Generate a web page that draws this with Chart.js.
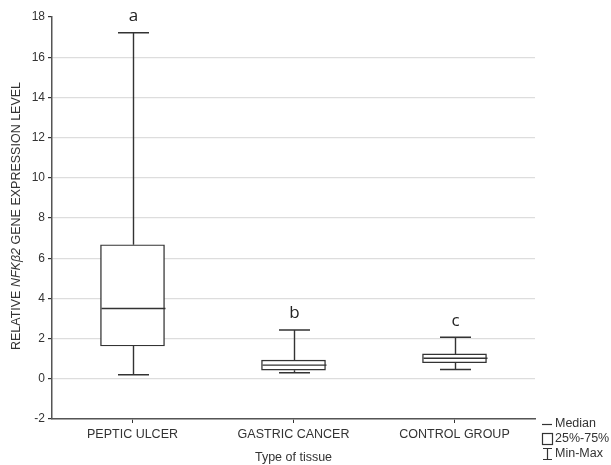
<!DOCTYPE html>
<html>
<head>
<meta charset="utf-8">
<script src="https://cdn.jsdelivr.net/npm/chart.js@4"></script>
<style>
  html, body { margin: 0; padding: 0; background: #fff; }
  #wrap { width: 611px; height: 465px; }
</style>
</head>
<body>
<div id="wrap"><canvas id="boxChart"></canvas></div>
<script>
// Data
const categories = ['PEPTIC ULCER', 'GASTRIC CANCER', 'CONTROL GROUP'];
const minValues = [0.2, 0.3, 0.46];
const q1Values = [1.63, 0.43, 0.8];
const medianValues = [3.5, 0.68, 1.02];
const q3Values = [6.67, 0.93, 1.24];
const maxValues = [17.22, 2.43, 2.07];
const groupLetters = ['a', 'b', 'c'];
const yTickValues = [-2, 0, 2, 4, 6, 8, 10, 12, 14, 16, 18];

const ink = '#333';
const font = '"Liberation Sans", Arial, sans-serif';

// Whiskers, medians and letters on top of the boxes
const boxExtras = {
  id: 'boxExtras',
  afterDatasetsDraw(chart) {
    const ctx = chart.ctx;
    const xs = chart.scales.x, ys = chart.scales.y;
    const bars = chart.getDatasetMeta(0).data;
    ctx.save();
    ctx.strokeStyle = ink;
    ctx.lineWidth = 1.4;
    categories.forEach((c, i) => {
      const cx = Math.round(xs.getPixelForValue(i)) + 0.5;
      const half = bars[i].width / 2;
      const cap = 15.5;
      const yMin = ys.getPixelForValue(minValues[i]);
      const yQ1 = ys.getPixelForValue(q1Values[i]);
      const yMed = ys.getPixelForValue(medianValues[i]);
      const yQ3 = ys.getPixelForValue(q3Values[i]);
      const yMax = ys.getPixelForValue(maxValues[i]);
      ctx.beginPath();
      ctx.moveTo(cx, yMax); ctx.lineTo(cx, yQ3);
      ctx.moveTo(cx, yQ1); ctx.lineTo(cx, yMin);
      ctx.moveTo(cx - cap, yMax); ctx.lineTo(cx + cap, yMax);
      ctx.moveTo(cx - cap, yMin); ctx.lineTo(cx + cap, yMin);
      ctx.moveTo(cx - half, yMed); ctx.lineTo(cx + half, yMed);
      ctx.stroke();
      ctx.fillStyle = '#222';
      ctx.font = '17px "Open Sans", sans-serif';
      ctx.textAlign = 'center';
      ctx.textBaseline = 'bottom';
      ctx.fillText(groupLetters[i], cx, yMax - 8);
    });
    ctx.restore();
  }
};

// Rotated y title with the italic gene name
const yTitle = {
  id: 'yTitle',
  afterDraw(chart) {
    const ctx = chart.ctx;
    const parts = [
      ['RELATIVE ', 'normal'],
      ['NFKβ2', 'italic'],
      [' GENE EXPRESSION LEVEL', 'normal']
    ];
    ctx.save();
    let total = 0;
    parts.forEach(p => {
      ctx.font = p[1] + ' 12.5px ' + font;
      total += ctx.measureText(p[0]).width;
    });
    ctx.translate(17, 216);
    ctx.rotate(-Math.PI / 2);
    ctx.fillStyle = ink;
    ctx.textBaseline = 'middle';
    ctx.textAlign = 'left';
    let x = -total / 2;
    parts.forEach(p => {
      ctx.font = p[1] + ' 12.5px ' + font;
      ctx.fillText(p[0], x, 0);
      x += ctx.measureText(p[0]).width;
    });
    ctx.restore();
  }
};

// Small legend at bottom right
const boxLegend = {
  id: 'boxLegend',
  afterDraw(chart) {
    const ctx = chart.ctx;
    ctx.save();
    ctx.strokeStyle = ink;
    ctx.lineWidth = 1.2;
    ctx.fillStyle = ink;
    ctx.font = '12.5px ' + font;
    ctx.textBaseline = 'middle';
    ctx.textAlign = 'left';
    const sx = 542, tx = 555;
    // median
    ctx.beginPath();
    ctx.moveTo(sx, 424.5); ctx.lineTo(sx + 10, 424.5);
    ctx.stroke();
    ctx.fillText('Median', tx, 424);
    // box
    ctx.strokeRect(sx + 0.5, 433.5, 10, 11);
    ctx.fillText('25%-75%', tx, 439);
    // whisker
    ctx.beginPath();
    ctx.moveTo(sx + 1, 448.5); ctx.lineTo(sx + 10, 448.5);
    ctx.moveTo(sx + 5.5, 448.5); ctx.lineTo(sx + 5.5, 459.5);
    ctx.moveTo(sx + 1, 459.5); ctx.lineTo(sx + 10, 459.5);
    ctx.stroke();
    ctx.fillText('Min-Max', tx, 454);
    ctx.restore();
  }
};

new Chart(document.getElementById('boxChart'), {
  type: 'bar',
  data: {
    labels: categories,
    datasets: [{
      data: categories.map((c, i) => [q1Values[i], q3Values[i]]),
      backgroundColor: '#fff',
      borderColor: ink,
      borderWidth: 1.4,
      borderSkipped: false,
      barThickness: 64
    }]
  },
  options: {
    responsive: true,
    maintainAspectRatio: false,
    animation: false,
    layout: { padding: { top: 17, right: 76, left: 0, bottom: 0 } },
    plugins: {
      legend: { display: false },
      tooltip: { enabled: false }
    },
    scales: {
      x: {
        grid: { display: true, drawOnChartArea: false, offset: false, tickLength: 4, tickColor: ink },
        border: { color: '#555', width: 1.5 },
        ticks: { color: ink, font: { family: font, size: 12.5 }, padding: 4 },
        title: { display: true, text: 'Type of tissue', color: ink, font: { family: font, size: 12.5 }, padding: { top: 2, bottom: 0 } },
        afterFit(scale) { scale.height = 46; }
      },
      y: {
        min: -2,
        max: 18,
        afterBuildTicks(scale) { scale.ticks = yTickValues.map(v => ({ value: v })); },
        grid: {
          color: c => (c.tick && c.tick.value === 18 ? 'rgba(0,0,0,0)' : '#ddd'),
          lineWidth: 1.2,
          tickLength: 4,
          tickColor: ink
        },
        border: { color: '#555', width: 1.5 },
        ticks: { color: ink, font: { family: font, size: 12 }, padding: 3 },
        afterFit(scale) { scale.width = 52; }
      }
    }
  },
  plugins: [boxExtras, yTitle, boxLegend]
});
</script>
</body>
</html>
